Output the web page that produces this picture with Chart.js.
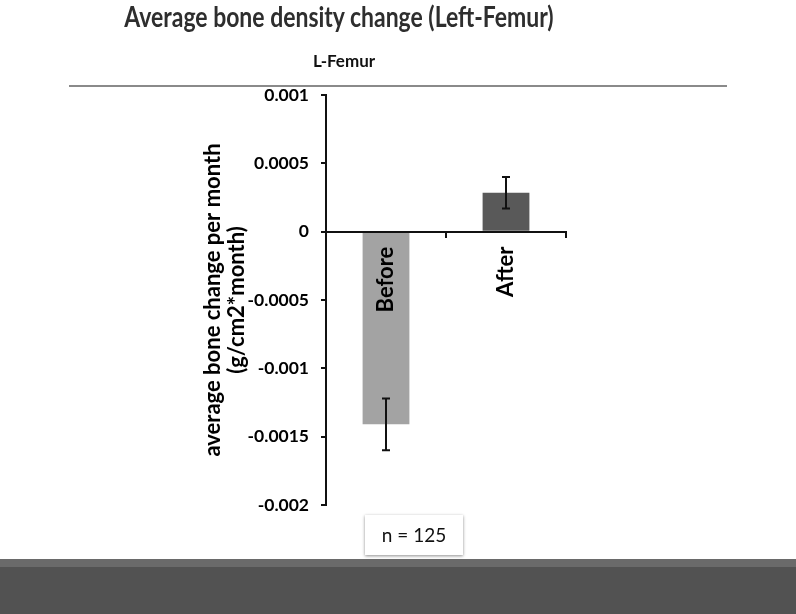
<!DOCTYPE html>
<html>
<head>
<meta charset="utf-8">
<script src="https://cdn.jsdelivr.net/npm/chart.js@4"></script>
<style>
  body { margin: 0; background: #fff; }
  #wrap { position: relative; width: 796px; height: 614px; overflow: hidden; }
  #my-chart { position: absolute; left: 0; top: 0; }
  .title { position: absolute; left: 0; width: 678px; top: 2px; text-align: center; font: bold 28px Lato; line-height: 1; color: #2e2e2e; transform: scaleX(0.82); transform-origin: 339px 0; }
  .sub { position: absolute; left: 0; width: 688px; top: 52px; text-align: center; font: bold 17px Lato; line-height: 1; color: #111; }
  .rule { position: absolute; left: 69px; top: 85px; width: 658px; height: 2px; background: #8a8a8a; }
  .band { position: absolute; left: 0; top: 559px; width: 796px; height: 55px; background: #525252; border-top: 8px solid #6a6a6a; box-sizing: border-box; }
  .nbox { position: absolute; left: 365px; top: 515px; width: 98px; height: 40px; background: #fff; box-shadow: 0 1px 3px rgba(0,0,0,0.45); font: 19px Lato; color: #111; line-height: 40px; text-align: center; z-index: 2; }
</style>
</head>
<body>
<div id="wrap">
  <canvas id="my-chart" width="796" height="614"></canvas>
  <div class="title">Average bone density change (Left-Femur)</div>
  <div class="sub">L-Femur</div>
  <div class="rule"></div>
  <div class="band"></div>
  <div class="nbox">n = 125</div>
</div>
<script>
const categories = ['Before', 'After'];
const values = [-0.00141, 0.000285];
const errors = [0.00019, 0.000115];
const barColors = ['#a3a3a3', '#595959'];
const yTickLabels = ['-0.002', '-0.0015', '-0.001', '-0.0005', '0', '0.0005', '0.001'];
const yTitle = ['average bone change per month', '(g/cm2*month)'];

const errorBars = {
    id: 'errorBars',
    afterDatasetsDraw(chart) {
        const ctx = chart.ctx;
        const meta = chart.getDatasetMeta(0);
        const yScale = chart.scales.y;
        ctx.save();
        ctx.strokeStyle = '#111';
        ctx.lineWidth = 2;
        meta.data.forEach((bar, i) => {
            const top = yScale.getPixelForValue(values[i] + errors[i]);
            const bottom = yScale.getPixelForValue(values[i] - errors[i]);
            ctx.beginPath();
            ctx.moveTo(bar.x, top);
            ctx.lineTo(bar.x, bottom);
            ctx.moveTo(bar.x - 4, top);
            ctx.lineTo(bar.x + 4, top);
            ctx.moveTo(bar.x - 4, bottom);
            ctx.lineTo(bar.x + 4, bottom);
            ctx.stroke();
        });
        ctx.restore();
    }
};

const ctx = document.getElementById('my-chart').getContext('2d');
new Chart(ctx, {
    type: 'bar',
    data: {
        labels: categories,
        datasets: [{
            data: values,
            backgroundColor: barColors,
            borderWidth: 0,
            categoryPercentage: 1,
            barPercentage: 0.39
        }]
    },
    options: {
        responsive: false,
        animation: false,
        layout: { padding: { left: 200, right: 230, top: 95, bottom: 109 } },
        plugins: { legend: { display: false }, tooltip: { enabled: false }, title: { display: false } },
        scales: {
            x: {
                position: { y: 0 },
                grid: { drawOnChartArea: false, drawTicks: true, tickLength: 5, color: '#111', lineWidth: 2, z: 1 },
                border: { color: '#111', width: 2, z: 1 },
                ticks: {
                    z: 1,
                    color: '#000',
                    font: { family: 'Lato', size: 22, weight: 'bold' },
                    minRotation: 90,
                    maxRotation: 90,
                    autoSkip: false,
                    padding: 10
                }
            },
            y: {
                min: -0.002,
                max: 0.001,
                afterFit: (scale) => { scale.width = 126; },
                grid: { drawOnChartArea: false, drawTicks: true, tickLength: 5, color: '#111', lineWidth: 2, z: 1 },
                border: { color: '#111', width: 2, z: 1 },
                ticks: {
                    z: 1,
                    stepSize: 0.0005,
                    color: '#000',
                    padding: 12,
                    font: { family: 'Lato', size: 17.5, weight: 'bold' },
                    callback: (v, i) => yTickLabels[i]
                },
                title: {
                    display: true,
                    text: yTitle,
                    color: '#000',
                    padding: { top: 1, bottom: 0 },
                    font: { family: 'Lato', size: 22, weight: 'bold', lineHeight: 1.1 }
                }
            }
        }
    },
    plugins: [errorBars]
});
</script>
</body>
</html>
